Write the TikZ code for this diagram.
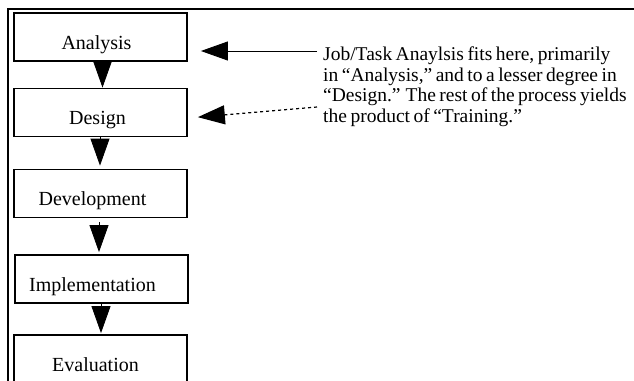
\documentclass[tikz,border=0pt]{standalone}
\usepackage{fontspec}
\setmainfont{Liberation Serif}
\usetikzlibrary{arrows.meta}

\tikzset{
  stagebox/.style={draw,line width=1.8pt,minimum width=173pt,minimum height=48pt,
    inner sep=0pt,text height=24pt,text depth=0pt},
  flowarrow/.style={line width=0.8pt,-{Triangle[length=27pt,width=19pt]}},
  notearrow/.style={line width=0.9pt,-{Triangle[length=27pt,width=19pt]}},
}

\begin{document}
\begin{tikzpicture}[x=1pt,y=-1pt,font=\fontsize{20}{20.7}\selectfont]
  \clip (0,0) rectangle (634,380);
  % outer frame, cut off at right and bottom
  \draw[line width=2pt] (8,420) -- (8,9) -- (680,9);
  % the five stages
  \node[stagebox] (analysis) at (100.5,37) {Analysis\hspace*{8pt}};
  \node[stagebox] (design) at (100.5,112.5) {Design\hspace*{6pt}};
  \node[stagebox] (development) at (100.5,193.5) {Development\hspace*{16pt}};
  \node[stagebox] (implementation) at (101.5,279) {Implementation\hspace*{18pt}};
  \node[stagebox] (evaluation) at (100.5,359) {Evaluation\hspace*{10pt}};
  \draw[flowarrow] ([xshift=2pt]analysis.south) -- ([xshift=2pt]design.north);
  \draw[flowarrow,shorten >=3pt] ([xshift=-0.5pt]design.south) -- ([xshift=-0.5pt]development.north);
  \draw[flowarrow,shorten <=4pt,shorten >=2pt] ([xshift=-1.5pt]development.south) -- ([xshift=-2.5pt]implementation.north);
  \draw[flowarrow,shorten >=1pt] ([xshift=-0.5pt]implementation.south) -- ([xshift=0.5pt]evaluation.north);
  % note on the right
  \node[anchor=north west,align=left,text width=340pt,inner sep=0pt,
        font=\fontsize{19.5}{20.7}\selectfont] (note) at (323,46.5)
    {\spaceskip=3.5pt plus 1pt minus 1pt
     Job/Task Anaylsis fits here, primarily\\
     in ``Analysis,'' and to a lesser degree in\\
     ``Design.''\hspace{5pt}The rest of the process yields\\
     the product of ``Training.''};
  \coordinate (solidend) at (317,51);
  \coordinate (dashend) at (317,107);
  \draw[notearrow,shorten >=13pt] (solidend) -- ([yshift=-14pt]analysis.east);
  \draw[notearrow,line width=1.2pt,dash pattern=on 3pt off 3pt,shorten >=10pt] (dashend) -- ([yshift=-5.5pt]design.east);
\end{tikzpicture}
\end{document}
